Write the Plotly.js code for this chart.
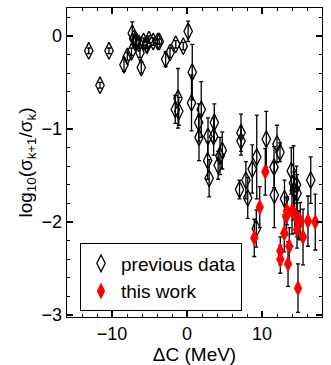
<!DOCTYPE html>
<html><head><meta charset="utf-8">
<script src="https://cdn.plot.ly/plotly-3.0.1.min.js"></script>
<style>html,body{margin:0;padding:0;background:#fff}#c{width:331px;height:365px}</style>
</head><body><div id="c"></div>
<script>
const prevX = [-13.1,-11.6,-10.4,-8.4,-7.96,-7.4,-7.3,-7.1,-6.85,-6.4,-6.27,-6.1,-5.8,-5.4,-5.07,-4.5,-3.7,-2.85,-2.27,-1.5,-0.5,0.15,0.7,-1.2,-1.56,-1.1,0.6,1.9,1.55,1.6,2.8,3.64,3.55,2.75,4.7,4.4,4.15,2.95,7.2,7.2,7.85,7.0,8.1,8.7,9.3,10.57,12.0,12.4,11.6,11.64,13.0,13.9,14.2,14.6,14.3,14.67,16.5,9.24,-6.7,-5.33,-3.9];
const prevY = [-0.16,-0.53,-0.16,-0.31,-0.22,-0.17,0.03,-0.03,-0.06,-0.08,-0.18,-0.34,-0.06,-0.09,-0.04,-0.06,-0.06,-0.25,-0.18,-0.09,-0.11,0.05,-0.39,-0.67,-0.79,-0.81,-0.72,-0.79,-0.93,-1.09,-1.08,-0.93,-1.08,-1.34,-1.23,-1.29,-1.39,-1.53,-1.04,-1.13,-1.55,-1.65,-1.74,-1.43,-1.30,-1.11,-1.16,-1.25,-1.41,-1.71,-1.75,-1.45,-1.58,-1.60,-1.66,-1.69,-1.55,-2.07,-0.06,-0.10,-0.06];
const prevErr = [0.03,0.03,0.03,0.07,0.04,0.04,0.12,0.05,0.05,0.05,0.05,0.06,0.04,0.04,0.04,0.04,0.03,0.08,0.05,0.04,0.04,0.11,0.3,0.32,0.15,0.15,0.3,0.3,0.2,0.25,0.2,0.2,0.2,0.2,0.2,0.2,0.15,0.2,0.2,0.15,0.2,0.1,0.22,0.26,0.45,0.3,0.2,0.1,0.22,0.35,0.2,0.25,0.4,0.2,0.2,0.2,0.25,0.2,0.04,0.04,0.03];

const thisX = [10.44,9.7,8.97,13.33,13.24,14.0,14.35,14.67,14.9,14.67,15.1,16.13,17.1,15.47,12.97,13.64,12.44,12.44,13.47,14.8];
const thisY = [-1.46,-1.84,-2.17,-1.88,-1.94,-1.88,-1.92,-1.96,-2.03,-2.08,-1.99,-1.99,-2.00,-2.16,-2.12,-2.26,-2.31,-2.40,-2.45,-2.71];
const thisErr = [0.25,0.22,0.2,0.15,0.2,0.25,0.2,0.2,0.15,0.2,0.2,0.27,0.3,0.3,0.2,0.2,0.15,0.15,0.24,0.26];

const xTitle = 'ΔC (MeV)';
const yTitle = 'log<sub>10</sub>(σ<sub>k+1</sub>/σ<sub>k</sub>)';

const fam = 'Liberation Sans, Arial, sans-serif';
const tickFont = {family: fam, size: 18, color: '#000'};
const titleFont = {family: fam, size: 19, color: '#000'};
const legFont = {family: fam, size: 19, color: '#000'};
const eb = (arr) => ({type: 'data', array: arr, visible: true, color: '#000', thickness: 1.3, width: 2});

const traces = [
  {x: prevX, y: prevY, error_y: eb(prevErr), type: 'scatter', mode: 'markers', name: 'previous data',
   marker: {symbol: 'diamond-tall-open', size: 12, color: '#000', line: {width: 1.3, color: '#000'}}},
  {x: thisX, y: thisY, error_y: eb(thisErr), type: 'scatter', mode: 'markers', name: 'this work',
   marker: {symbol: 'diamond-tall', size: 12, color: '#ff0000', line: {width: 0}}}
];

const axisCommon = {
  showgrid: false, zeroline: false, showline: true, linecolor: '#000', linewidth: 1.3,
  mirror: 'allticks', ticks: 'inside', ticklen: 6, tickwidth: 1.3, tickcolor: '#000',
  tickfont: tickFont
};

const layout = {
  width: 331, height: 365,
  margin: {l: 67, r: 9, t: 8, b: 48},
  paper_bgcolor: '#fff', plot_bgcolor: '#fff',
  font: tickFont,
  showlegend: true,
  legend: {x: 0.051, y: 0.238, xanchor: 'left', yanchor: 'top', bordercolor: '#000', borderwidth: 1,
           bgcolor: '#fff', font: legFont, tracegroupgap: 0},
  xaxis: Object.assign({}, axisCommon, {
    range: [-16, 18], tickvals: [-10, 0, 10], ticktext: ['−10', '0', '10'],
    minor: {dtick: 2, tick0: 0, ticks: 'inside', ticklen: 3, tickwidth: 1, tickcolor: '#000'},
    title: {text: xTitle, font: titleFont, standoff: 2}
  }),
  yaxis: Object.assign({}, axisCommon, {
    range: [-3.02, 0.3], tickvals: [-3, -2, -1, 0], ticktext: ['−3', '−2', '−1', '0'],
    minor: {dtick: 0.2, tick0: 0, ticks: 'inside', ticklen: 3, tickwidth: 1, tickcolor: '#000'},
    title: {text: yTitle, font: titleFont, standoff: 4}
  })
};

Plotly.newPlot('c', traces, layout, {displayModeBar: false, staticPlot: true});
</script>
</body></html>
